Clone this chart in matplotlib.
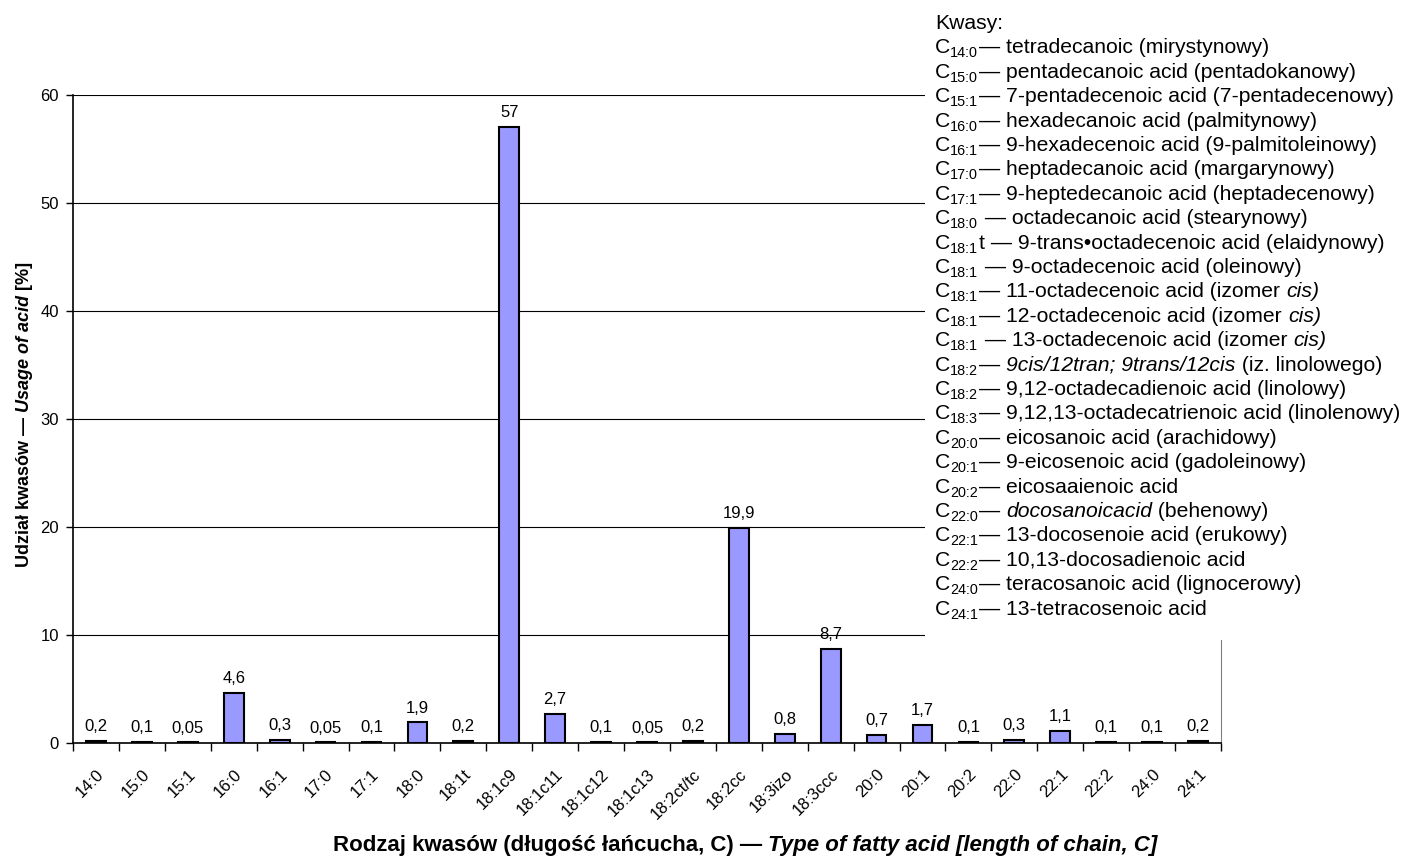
import numpy as np
import matplotlib
matplotlib.use('Agg')
import matplotlib.pyplot as plt
from matplotlib.patches import Rectangle

plt.rcParams['font.family'] = 'Liberation Sans'

# data
acids = ['14:0', '15:0', '15:1', '16:0', '16:1', '17:0', '17:1', '18:0', '18:1t',
         '18:1c9', '18:1c11', '18:1c12', '18:1c13', '18:2ct/tc', '18:2cc', '18:3izo',
         '18:3ccc', '20:0', '20:1', '20:2', '22:0', '22:1', '22:2', '24:0', '24:1']
shares = [0.2, 0.1, 0.05, 4.6, 0.3, 0.05, 0.1, 1.9, 0.2, 57, 2.7, 0.1, 0.05, 0.2,
          19.9, 0.8, 8.7, 0.7, 1.7, 0.1, 0.3, 1.1, 0.1, 0.1, 0.2]

# legend: subscript of C, then the rest (text between * * is italic)
legend_title = 'Kwasy:'
legend_subs = ['14:0', '15:0', '15:1', '16:0', '16:1', '17:0', '17:1', '18:0', '18:1',
               '18:1', '18:1', '18:1', '18:1', '18:2', '18:2', '18:3', '20:0', '20:1',
               '20:2', '22:0', '22:1', '22:2', '24:0', '24:1']
legend_rest = [
    '— tetradecanoic (mirystynowy)',
    '— pentadecanoic acid (pentadokanowy)',
    '— 7-pentadecenoic acid (7-pentadecenowy)',
    '— hexadecanoic acid (palmitynowy)',
    '— 9-hexadecenoic acid (9-palmitoleinowy)',
    '— heptadecanoic acid (margarynowy)',
    '— 9-heptedecanoic acid (heptadecenowy)',
    ' — octadecanoic acid (stearynowy)',
    't — 9-trans•octadecenoic acid (elaidynowy)',
    ' — 9-octadecenoic acid (oleinowy)',
    '— 11-octadecenoic acid (izomer *cis)*',
    '— 12-octadecenoic acid (izomer *cis)*',
    ' — 13-octadecenoic acid (izomer *cis)*',
    '— *9cis/12tran; 9trans/12cis* (iz. linolowego)',
    '— 9,12-octadecadienoic acid (linolowy)',
    '— 9,12,13-octadecatrienoic acid (linolenowy)',
    '— eicosanoic acid (arachidowy)',
    '— 9-eicosenoic acid (gadoleinowy)',
    '— eicosaaienoic acid',
    '— *docosanoicacid* (behenowy)',
    '— 13-docosenoie acid (erukowy)',
    '— 10,13-docosadienoic acid',
    '— teracosanoic acid (lignocerowy)',
    '— 13-tetracosenoic acid',
]

xlabel_parts = ['Rodzaj kwasów (długość łańcucha, C) — ', 'Type of fatty acid [length of chain, C]']
ylabel_parts = ['Udział kwasów — ', 'Usage of acid', ' [%]']

W, H = 1408, 866
fig = plt.figure(figsize=(W / 100, H / 100), dpi=100)
ax = fig.add_axes([73 / W, 1 - 743 / H, (1221 - 73) / W, (743 - 95) / H])

x = np.arange(len(acids))
ax.bar(x, shares, width=0.43, color='#9999ff', edgecolor='black', linewidth=1.5, zorder=3)
for xi, v in zip(x, shares):
    ax.annotate(f'{v:g}'.replace('.', ','), (xi, v), xytext=(0, 5), textcoords='offset points',
                ha='center', va='bottom', fontsize=12)

ax.set_xlim(-0.5, len(acids) - 0.5)
ax.set_ylim(0, 60)
ax.set_yticks(range(0, 61, 10))
ax.yaxis.grid(True, color='black', lw=0.8)
ax.set_axisbelow(True)
ax.tick_params(axis='y', length=5, width=1, labelsize=12, pad=5)

ax.set_xticks(x)
ax.set_xticklabels(acids, rotation=45, ha='right', rotation_mode='anchor', fontsize=12)
ax.set_xticks(np.arange(-0.5, len(acids)), minor=True)
ax.tick_params(axis='x', which='major', length=0, pad=17)
ax.tick_params(axis='x', which='minor', length=6, width=1)

ax.spines['top'].set_visible(False)
ax.spines['right'].set_color('#808080')
ax.spines['left'].set_linewidth(1.2)
ax.spines['bottom'].set_linewidth(1.2)

# white legend panel over the upper right of the plot
fig.patches.append(Rectangle((925 / W, 1 - 640 / H), (W - 925) / W, 640 / H,
                             transform=fig.transFigure, facecolor='white',
                             edgecolor='none', zorder=5))

fig.canvas.draw()
renderer = fig.canvas.get_renderer()


def put(xpx, ypx, s, **kw):
    t = fig.text(xpx / W, 1 - ypx / H, s, va='baseline', zorder=6, **kw)
    return xpx + t.get_window_extent(renderer).width


fs_leg = 15.2
y0 = 29
put(935, y0, legend_title, fontsize=fs_leg)
for i, (sub, rest) in enumerate(zip(legend_subs, legend_rest)):
    yb = y0 + (i + 1) * 24.4
    cx = put(935, yb, 'C', fontsize=fs_leg)
    cx = put(cx, yb + 4, sub, fontsize=fs_leg * 0.68) + 1
    for k, seg in enumerate(rest.split('*')):
        if seg:
            cx = put(cx, yb, seg, fontsize=fs_leg, fontstyle='italic' if k % 2 else 'normal')

# axis titles built from bold / bold italic pieces
styles_x = ['normal', 'italic']
pieces = [fig.text(0, 0, s, fontsize=16, fontweight='bold', fontstyle=st, va='baseline')
          for s, st in zip(xlabel_parts, styles_x)]
widths = [p.get_window_extent(renderer).width for p in pieces]
start = 745 - sum(widths) / 2
for p, w in zip(pieces, widths):
    p.set_position((start / W, 1 - 851 / H))
    start += w

styles_y = ['normal', 'italic', 'normal']
pieces = [fig.text(0, 0, s, fontsize=13, fontweight='bold', fontstyle=st, rotation=90,
                   va='baseline', ha='left', rotation_mode='anchor')
          for s, st in zip(ylabel_parts, styles_y)]
heights = [p.get_window_extent(renderer).height for p in pieces]
start = 414 + sum(heights) / 2
for p, h in zip(pieces, heights):
    p.set_position((29 / W, 1 - start / H))
    start -= h

fig.savefig('out.png', dpi=100)
